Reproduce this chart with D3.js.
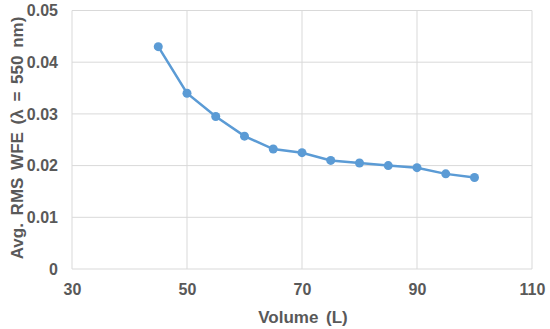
<!DOCTYPE html>
<html>
<head>
<meta charset="utf-8">
<script src="https://cdn.jsdelivr.net/npm/d3@7"></script>
<style>
  body { margin: 0; background: #fff; }
  text { font-family: "Liberation Sans", Arial, sans-serif; fill: #595959; font-weight: bold; }
</style>
</head>
<body>
<div id="chart"></div>
<script>
// chart data
var volumes = [45, 50, 55, 60, 65, 70, 75, 80, 85, 90, 95, 100];
var wfeValues = [0.0430, 0.0340, 0.0295, 0.0257, 0.0232, 0.0225, 0.0210, 0.0205, 0.0200, 0.0196, 0.0184, 0.0177];
var xTicks = [30, 50, 70, 90, 110];
var yTicks = [0, 0.01, 0.02, 0.03, 0.04, 0.05];

var width = 550, height = 329;
var margin = {top: 10.5, right: 18, bottom: 60, left: 72};

var svg = d3.select("#chart").append("svg")
    .attr("width", width)
    .attr("height", height);

var x = d3.scaleLinear().domain([30, 110]).range([margin.left, width - margin.right]);
var y = d3.scaleLinear().domain([0, 0.05]).range([height - margin.bottom, margin.top]);

// gridlines
svg.append("g").selectAll("line.h")
    .data(yTicks).enter().append("line")
    .attr("x1", x(30)).attr("x2", x(110))
    .attr("y1", function(d) { return y(d); })
    .attr("y2", function(d) { return y(d); })
    .attr("stroke", "#d9d9d9").attr("stroke-width", 1);
svg.append("g").selectAll("line.v")
    .data(xTicks).enter().append("line")
    .attr("x1", function(d) { return x(d); })
    .attr("x2", function(d) { return x(d); })
    .attr("y1", y(0)).attr("y2", y(0.05))
    .attr("stroke", "#d9d9d9").attr("stroke-width", 1);

// axes (labels only)
var xAxis = svg.append("g")
    .attr("transform", "translate(0," + y(0) + ")")
    .call(d3.axisBottom(x).tickValues(xTicks).tickSize(0).tickPadding(15));
xAxis.select(".domain").remove();
xAxis.selectAll("text").attr("font-size", 16).style("font-family", null);

var yAxis = svg.append("g")
    .attr("transform", "translate(" + x(30) + ",0)")
    .call(d3.axisLeft(y).tickValues(yTicks).tickSize(0).tickPadding(14)
      .tickFormat(function(d) { return d === 0 ? "0" : d3.format(".2f")(d); }));
yAxis.select(".domain").remove();
yAxis.selectAll("text").attr("font-size", 16).style("font-family", null);

// axis titles
svg.append("text")
    .attr("x", 303)
    .attr("y", 323)
    .attr("text-anchor", "middle")
    .attr("font-size", 17)
    .attr("word-spacing", 3)
    .text("Volume (L)");

svg.append("text")
    .attr("transform", "translate(23," + 138 + ") rotate(-90)")
    .attr("text-anchor", "middle")
    .attr("font-size", 17)
    .attr("word-spacing", 3)
    .text("Avg. RMS WFE (\u03bb = 550 nm)");

// series
var pts = volumes.map(function(v, i) { return [v, wfeValues[i]]; });
var line = d3.line()
    .x(function(d) { return x(d[0]); })
    .y(function(d) { return y(d[1]); });

svg.append("path")
    .datum(pts)
    .attr("d", line)
    .attr("fill", "none")
    .attr("stroke", "#5b9bd5")
    .attr("stroke-width", 2.5);

svg.selectAll("circle")
    .data(pts).enter().append("circle")
    .attr("cx", function(d) { return x(d[0]); })
    .attr("cy", function(d) { return y(d[1]); })
    .attr("r", 4.5)
    .attr("fill", "#5b9bd5");
</script>
</body>
</html>
